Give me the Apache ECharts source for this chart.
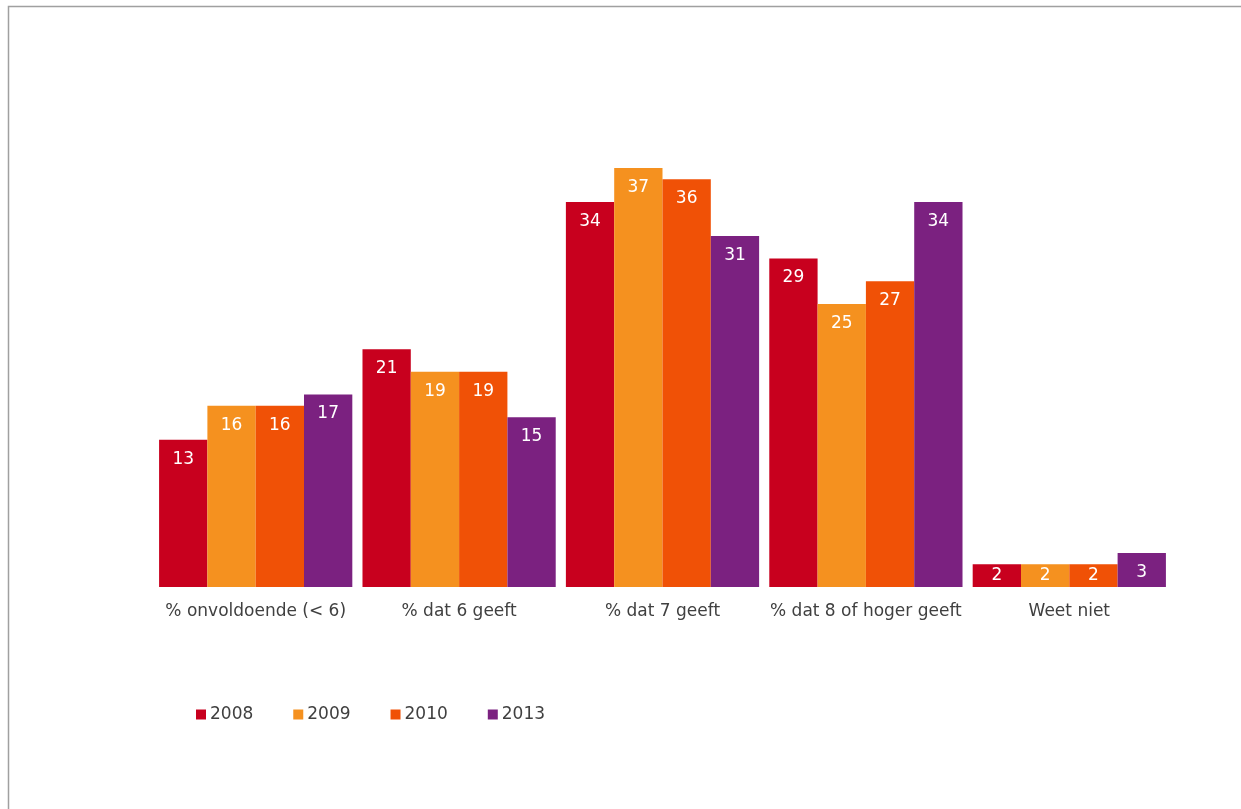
<!DOCTYPE html>
<html>
<head>
<meta charset="utf-8">
<style>
  html, body { margin: 0; padding: 0; background: #fff; }
  #chart { width: 1241px; height: 809px; }
</style>
<script src="https://cdn.jsdelivr.net/npm/echarts@6/dist/echarts.min.js"></script>
</head>
<body>
<div id="chart"></div>
<script>
const categories = ['% onvoldoende (< 6)', '% dat 6 geeft', '% dat 7 geeft', '% dat 8 of hoger geeft', 'Weet niet'];
const years = ['2008', '2009', '2010', '2013'];
const values2008 = [13, 21, 34, 29, 2];
const values2009 = [16, 19, 37, 25, 2];
const values2010 = [16, 19, 36, 27, 2];
const values2013 = [17, 15, 31, 34, 3];
const colors = ['#C8001E', '#F5911F', '#F05106', '#7B2180'];

const seriesValues = [values2008, values2009, values2010, values2013];
const font = 'DejaVu Sans';

// bars too short to hold a label at the top get it centred instead
function barData(vals) {
  return vals.map(v => v <= 2
    ? { value: v, label: { position: 'inside' } }
    : v);
}

const chart = echarts.init(document.getElementById('chart'));
chart.setOption({
  animation: false,
  color: colors,
  graphic: [{
    type: 'rect',
    shape: { x: 8.5, y: 6.5, width: 1260, height: 820 },
    style: { fill: 'none', stroke: '#a0a0a0', lineWidth: 1.5 },
    silent: true
  }],
  grid: { left: 154, right: 70, top: 134, bottom: 222 },
  legend: {
    left: 191, top: 701,
    itemWidth: 10, itemHeight: 10, itemGap: 40,
    icon: 'rect',
    textStyle: { fontFamily: font, fontSize: 17, color: '#404040', padding: [0, 0, 0, -1] },
    data: years
  },
  xAxis: {
    type: 'category',
    data: categories,
    axisLine: { show: false },
    axisTick: { show: false },
    axisLabel: { fontFamily: font, fontSize: 17, color: '#404040', margin: 16, interval: 0 }
  },
  yAxis: {
    type: 'value', min: 0, max: 40, show: false,
    splitLine: { show: false }
  },
  series: seriesValues.map((vals, i) => ({
    name: years[i],
    type: 'bar',
    data: barData(vals),
    barGap: '0%',
    barCategoryGap: '5%',
    itemStyle: { color: colors[i] },
    label: {
      show: true, position: 'insideTop', distance: 11,
      color: '#fff', fontFamily: font, fontSize: 17
    }
  }))
});
</script>
</body>
</html>
